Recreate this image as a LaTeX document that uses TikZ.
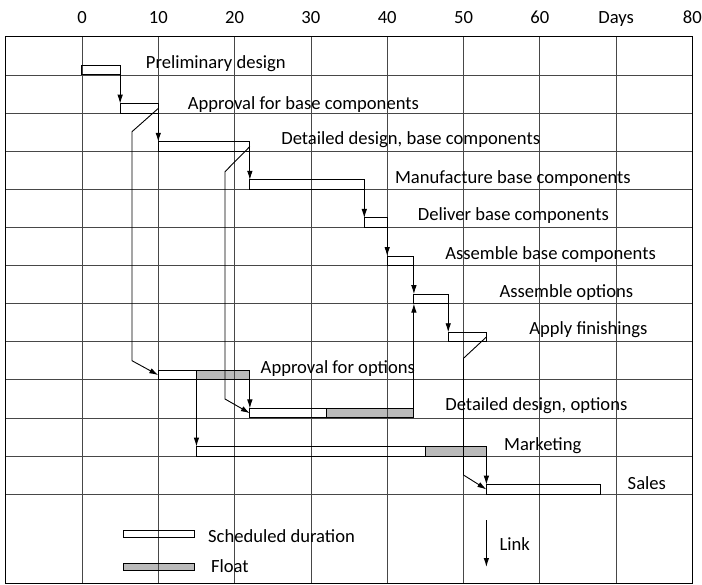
\documentclass[tikz,border=0pt]{standalone}
\usepackage{fontspec}
\setmainfont{Carlito}
\usetikzlibrary{arrows.meta,fit}
\pgfdeclarelayer{bg}
\pgfsetlayers{bg,main}

\tikzset{
  gridline/.style={draw=black!72, line width=0.75pt},
  frameline/.style={draw=black, line width=0.9pt},
  barbox/.style={draw=black, line width=1pt, inner sep=0pt, outer sep=0pt},
  floatfill/.style={fill=black!27},
  link/.style={draw=black, line width=0.9pt, -{Latex[length=9pt,width=5.5pt]}},
  lbl/.style={inner sep=0pt, font=\fontsize{18.6}{22}\selectfont},
  task/.style={lbl, anchor=base west},
  daylabel/.style={lbl, anchor=base},
}

% a bar: name, start day, end day, bottom (px), height (px)
\newcommand{\ganttbar}[5]{%
  \node[barbox, fit={(#2,#4) (#3,#4-#5)}] (#1) {};}
% a float bar: same, with a grey fill kept below the grid
\newcommand{\floatbar}[5]{%
  \ganttbar{#1}{#2}{#3}{#4}{#5}%
  \begin{pgfonlayer}{bg}
    \fill[floatfill] (#1.south west) rectangle (#1.north east);
  \end{pgfonlayer}}

\begin{document}
\begin{tikzpicture}[x=7.63pt, y=-1pt]
  \useasboundingbox (-10.747,0) rectangle (81.258,585);

  % bars
  \ganttbar{pd}{0}{5}{75}{9.4}
  \ganttbar{abc}{5}{10}{113.1}{9.4}
  \ganttbar{ddb}{10}{22}{151.2}{9.4}
  \ganttbar{mbc}{22}{37}{189.3}{9.4}
  \ganttbar{dbc}{37}{40}{227.4}{9.4}
  \ganttbar{abs}{40}{43.5}{265.5}{9.4}
  \ganttbar{ao}{43.5}{48}{303.6}{9.4}
  \ganttbar{af}{48}{53}{341.7}{9.4}
  \ganttbar{apo}{10}{15}{379.8}{9.4}
  \floatbar{apof}{15}{22}{379.8}{9.4}
  \ganttbar{ddo}{22}{32}{417.9}{9.4}
  \floatbar{ddof}{32}{43.5}{417.9}{9.4}
  \ganttbar{mk}{15}{45}{456}{9.4}
  \floatbar{mkf}{45}{53}{456}{9.4}
  \ganttbar{sl}{53}{68}{494.1}{9.4}

  % legend bars
  \ganttbar{legs}{5.4}{14.7}{537.3}{6.8}
  \floatbar{legf}{5.4}{14.7}{570}{7}

  % grid and frame
  \begin{pgfonlayer}{bg}
    \foreach \d in {0,10,...,70}
      \draw[gridline] (\d,36.9) -- (\d,583);
    \foreach \r in {75,113.1,151.2,189.3,227.4,265.5,303.6,341.7,379.8,417.9,456,494.1}
      \draw[gridline] (-10,\r) -- (80,\r);
    \draw[frameline] (-10,36.9) rectangle (80,583);
  \end{pgfonlayer}

  % day scale
  \foreach \d in {0,10,...,60}
    \node[daylabel] (day\d) at (\d,23.3) {\d};
  \node[daylabel] (dayunit) at (70,23.3) {Days};
  \node[daylabel] (day80) at (80,23.3) {80};

  % links
  \draw[link] (pd.south east) -- (abc.north west);
  \draw[link] (abc.south east) -- (ddb.north west);
  \draw[link] (ddb.south east) -- (mbc.north west);
  \draw[link] (mbc.south east) -- (dbc.north west);
  \draw[link] (dbc.south east) -- (abs.north west);
  \draw[link] (abs.south east) -- (ao.north west);
  \draw[link] (ao.south east) -- (af.north west);
  \draw[link] (ddof.north east) -- (ao.south west);
  \draw[link] (apof.south east) -- (ddo.north west);
  \draw[link] (apo.south east) -- (mk.north west);
  \draw[link] (mkf.south east) -- (sl.north west);

  \coordinate (ka) at (6.55,131.7);
  \coordinate (kb) at (6.55,360.7);
  \draw[link] (abc.east) -- (ka) -- (kb) -- (apo.west);
  \coordinate (kc) at (18.74,171.7);
  \coordinate (kd) at (18.74,399);
  \draw[link] (ddb.east) -- (kc) -- (kd) -- (ddo.west);
  \coordinate (ke) at (50,358.3);
  \coordinate (kf) at (50,475);
  \draw[link] (af.east) -- (ke) -- (kf) -- (sl.west);

  % task labels
  \node[task] (tpd)  at (8.35,68.3)  {Preliminary design};
  \node[task] (tabc) at (13.85,109.3) {Approval for base components};
  \node[task] (tddb) at (26.1,145)   {Detailed design, base components};
  \node[task] (tmbc) at (41.0,183.3) {Manufacture base components};
  \node[task] (tdbc) at (44.0,221)   {Deliver base components};
  \node[task] (tabs) at (47.6,260)   {Assemble base components};
  \node[task] (tao)  at (54.7,297.7) {Assemble options};
  \node[task] (taf)  at (58.6,335)   {Apply finishings};
  \node[task] (tapo) at (23.4,373.3) {Approval for options};
  \node[task] (tddo) at (47.6,410)   {Detailed design, options};
  \node[task] (tmk)  at (55.3,450)   {Marketing};
  \node[task] (tsl)  at (71.5,489.3) {Sales};

  % legend
  \node[task] (tlegs) at (16.5,542) {Scheduled duration};
  \node[task] (tlegf) at (16.9,572) {Float};
  \coordinate (lka) at (53,520);
  \coordinate (lkb) at (53,567);
  \draw[link] (lka) -- (lkb);
  \node[task] (tlink) at (54.7,550) {Link};
\end{tikzpicture}
\end{document}
